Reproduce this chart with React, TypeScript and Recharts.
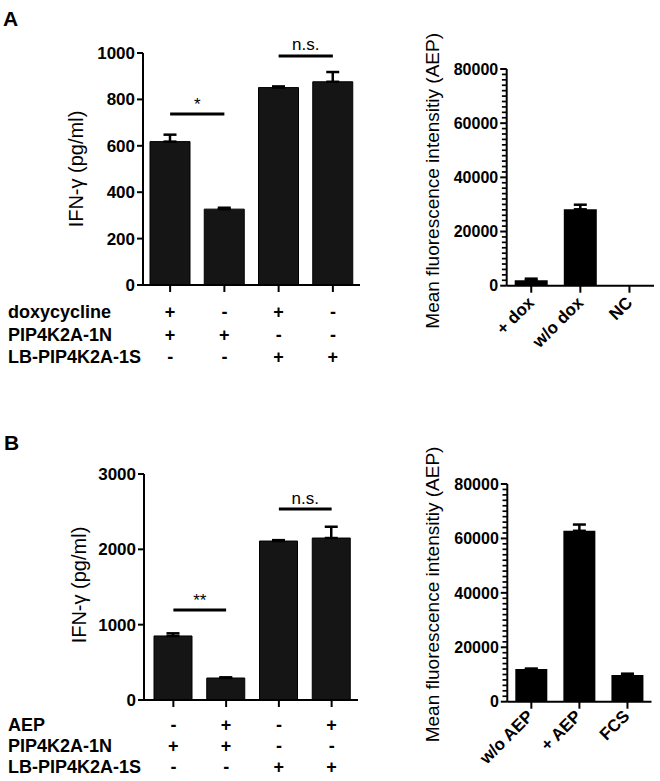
import React from 'react';
import { BarChart, Bar, XAxis, YAxis, ErrorBar, ReferenceLine } from 'recharts';

const FONT = '"Liberation Sans", Arial, Helvetica, sans-serif';

// ---------- Panel A, left: IFN-gamma ----------
const conditionsA = ['a1', 'a2', 'a3', 'a4'];
const ifnA = [618, 327, 851, 876];
const ifnAErr = [30, 6, 5, 42];
const rowNamesA = ['doxycycline', 'PIP4K2A-1N', 'LB-PIP4K2A-1S'];
const rowSignsA = [
  ['+', '-', '+', '-'],
  ['+', '+', '-', '-'],
  ['-', '-', '+', '+'],
];
const ifnATicks = [0, 200, 400, 600, 800, 1000];
const sigA = [
  { from: 0, to: 1, y: 737, text: '*' },
  { from: 2, to: 3, y: 987, text: 'n.s.' },
];

// ---------- Panel A, right: MFI ----------
const mfiACats = ['+ dox', 'w/o dox', 'NC'];
const mfiA = [2000, 28200, 0];
const mfiAErr = [600, 1700, 0];

// ---------- Panel B, left: IFN-gamma ----------
const conditionsB = ['b1', 'b2', 'b3', 'b4'];
const ifnB = [850, 292, 2110, 2150];
const ifnBErr = [35, 9, 12, 150];
const rowNamesB = ['AEP', 'PIP4K2A-1N', 'LB-PIP4K2A-1S'];
const rowSignsB = [
  ['-', '+', '-', '+'],
  ['+', '+', '-', '-'],
  ['-', '-', '+', '+'],
];
const ifnBTicks = [0, 1000, 2000, 3000];
const sigB = [
  { from: 0, to: 1, y: 1195, text: '**' },
  { from: 2, to: 3, y: 2535, text: 'n.s.' },
];

// ---------- Panel B, right: MFI ----------
const mfiBCats = ['w/o AEP', '+ AEP', 'FCS'];
const mfiB = [12000, 62800, 9800];
const mfiBErr = [150, 2300, 500];

const mfiMajorTicks = [0, 20000, 40000, 60000, 80000];
const mfiMinorTicks = [
  2000, 4000, 6000, 8000, 10000, 12000, 14000, 16000, 18000,
  22000, 24000, 26000, 28000, 30000, 32000, 34000, 36000, 38000,
  42000, 44000, 46000, 48000, 50000, 52000, 54000, 56000, 58000,
  62000, 64000, 66000, 68000, 70000, 72000, 74000, 76000, 78000,
];

const build = (cats: string[], vals: number[], errs: number[]) =>
  cats.map((c, i) => ({ cat: c, value: vals[i], err: [0, errs[i]] }));

const dataA = build(conditionsA, ifnA, ifnAErr);
const dataAR = build(mfiACats, mfiA, mfiAErr);
const dataB = build(conditionsB, ifnB, ifnBErr);
const dataBR = build(mfiBCats, mfiB, mfiBErr);

const makeSignTick = (rowNames: string[], rowSigns: string[][], offsets: number[]) =>
  (props: any) => {
    const { x, y, payload } = props;
    const i = payload && payload.index != null ? payload.index : props.index;
    return (
      <g>
        {rowSigns.map((row, r) => (
          <text key={'s' + r} x={x} y={y + offsets[r]} textAnchor="middle" fontSize={18}
            fontWeight="bold" fontFamily={FONT} fill="#000">{row[i]}</text>
        ))}
        {i === 0 && rowNames.map((name, r) => (
          <text key={'n' + r} x={8} y={y + offsets[r]} textAnchor="start" fontSize={18}
            fontWeight="bold" fontFamily={FONT} fill="#000">{name}</text>
        ))}
      </g>
    );
  };

const makeRotTick = (dx: number, dy: number) => (props: any) => {
  const { x, y, payload } = props;
  const tx = x + dx;
  const ty = y + dy;
  return (
    <text x={tx} y={ty} transform={`rotate(-45 ${tx} ${ty})`} textAnchor="end" fontSize={17}
      fontWeight="bold" fontFamily={FONT} fill="#000">{payload.value}</text>
  );
};

// Minor tick: a reference line at the tick value, drawn only as a short stub left of the axis
const minorTickShape = (props: any) => {
  const left = Math.min(Number(props.x1), Number(props.x2));
  const yy = Number(props.y1);
  return <line x1={left - 4.8} x2={left} y1={yy} y2={yy} stroke="#000" strokeWidth={1.7} />;
};

const makeYLabel = (text: string, bx: number, dyc: number, fontSize: number) => (props: any) => {
  const vb = props.viewBox || {};
  const cx = (vb.x || 0) + bx;
  const cy = (vb.y || 0) + (vb.height || 0) / 2 + dyc;
  return (
    <text x={cx} y={cy} transform={`rotate(-90 ${cx} ${cy})`} textAnchor="middle" fontSize={fontSize}
      fontFamily={FONT} fill="#000">{text}</text>
  );
};

const axisLine = { stroke: '#000', strokeWidth: 2 };
const tickLineStyle = { stroke: '#000', strokeWidth: 2 };
const yTickStyle = { fontSize: 17, fontWeight: 'bold', fill: '#000', fontFamily: FONT } as any;
const mfiTickStyle = { fontSize: 16, fontWeight: 'bold', fill: '#000', fontFamily: FONT } as any;

const sigLines = (sig: typeof sigA, cats: string[], offsets: number[]) =>
  sig.map((s, k) => (
    <ReferenceLine key={'sig' + k} segment={[{ x: cats[s.from], y: s.y }, { x: cats[s.to], y: s.y }]}
      stroke="#000" strokeWidth={3} ifOverflow="visible"
      label={{ value: s.text, position: 'top', offset: offsets[k], fill: '#000', fontSize: 17, fontFamily: FONT }} />
  ));

const minorLines = () =>
  mfiMinorTicks.map((v) => (
    <ReferenceLine key={'minor' + v} y={v} stroke="#000" ifOverflow="visible" shape={minorTickShape} />
  ));

export default function App() {
  return (
    <div style={{ position: 'absolute', left: 0, top: 0, width: 660, height: 781, background: '#fff', overflow: 'hidden' }}>
      {/* Panel A left */}
      <div style={{ position: 'absolute', left: 0, top: 0 }}>
        <BarChart width={370} height={380} data={dataA} margin={{ top: 53, right: 10, bottom: 0, left: 0 }}>
          <XAxis dataKey="cat" height={95} axisLine={axisLine} tickLine={tickLineStyle} tickSize={7} tickMargin={2}
            interval={0} tick={makeSignTick(rowNamesA, rowSignsA, [24, 47, 69])} />
          <YAxis width={143} domain={[0, 1000]} ticks={ifnATicks} interval={0} axisLine={axisLine}
            tickLine={tickLineStyle} tickSize={6} tickMargin={2} tick={yTickStyle}
            label={makeYLabel('IFN-γ (pg/ml)', 83, 0, 20)} />
          <Bar dataKey="value" fill="#151515" stroke="#000" strokeWidth={1} barSize={40} isAnimationActive={false}>
            <ErrorBar dataKey="err" width={6.5} strokeWidth={2.5} stroke="#000" direction="y" />
          </Bar>
          {sigLines(sigA, conditionsA, [4, 6])}
        </BarChart>
      </div>

      {/* Panel A right */}
      <div style={{ position: 'absolute', left: 400, top: 0 }}>
        <BarChart width={260} height={380} data={dataAR} margin={{ top: 69, right: 6, bottom: 0, left: 0 }}>
          <XAxis dataKey="cat" height={94.3} axisLine={axisLine} tickLine={tickLineStyle} tickSize={7} tickMargin={2}
            interval={0} tick={makeRotTick(4, 9)} />
          <YAxis width={106.7} domain={[0, 80000]} ticks={mfiMajorTicks} interval={0} axisLine={axisLine}
            tickLine={tickLineStyle} tickSize={6.5} tickMargin={2} tick={mfiTickStyle}
            label={makeYLabel('Mean fluorescence intensitiy (AEP)', 39, 3.5, 19)} />
          {minorLines()}
          <Bar dataKey="value" fill="#000" barSize={33} isAnimationActive={false}>
            <ErrorBar dataKey="err" width={6.5} strokeWidth={2.5} stroke="#000" direction="y" />
          </Bar>
        </BarChart>
      </div>

      {/* Panel B left */}
      <div style={{ position: 'absolute', left: 0, top: 400 }}>
        <BarChart width={370} height={381} data={dataB} margin={{ top: 74, right: 12, bottom: 0, left: 0 }}>
          <XAxis dataKey="cat" height={81} axisLine={axisLine} tickLine={tickLineStyle} tickSize={7} tickMargin={2}
            interval={0} padding={{ left: 3, right: 0 }} tick={makeSignTick(rowNamesB, rowSignsB, [22, 43, 64])} />
          <YAxis width={144} domain={[0, 3000]} ticks={ifnBTicks} interval={0} axisLine={axisLine}
            tickLine={tickLineStyle} tickSize={6} tickMargin={2} tick={yTickStyle}
            label={makeYLabel('IFN-γ (pg/ml)', 86, -2, 20)} />
          <Bar dataKey="value" fill="#151515" stroke="#000" strokeWidth={1} barSize={38} isAnimationActive={false}>
            <ErrorBar dataKey="err" width={6.5} strokeWidth={2.5} stroke="#000" direction="y" />
          </Bar>
          {sigLines(sigB, conditionsB, [4, 5.5])}
        </BarChart>
      </div>

      {/* Panel B right */}
      <div style={{ position: 'absolute', left: 400, top: 400 }}>
        <BarChart width={260} height={381} data={dataBR} margin={{ top: 84, right: 8.5, bottom: 0, left: 0 }}>
          <XAxis dataKey="cat" height={79.3} axisLine={axisLine} tickLine={tickLineStyle} tickSize={7} tickMargin={2}
            interval={0} tick={makeRotTick(3, 6.5)} />
          <YAxis width={107.3} domain={[0, 80000]} ticks={mfiMajorTicks} interval={0} axisLine={axisLine}
            tickLine={tickLineStyle} tickSize={6.5} tickMargin={2} tick={mfiTickStyle}
            label={makeYLabel('Mean fluorescence intensitiy (AEP)', 39.5, 1.6, 19)} />
          {minorLines()}
          <Bar dataKey="value" fill="#000" barSize={32} isAnimationActive={false}>
            <ErrorBar dataKey="err" width={6.5} strokeWidth={2.5} stroke="#000" direction="y" />
          </Bar>
        </BarChart>
      </div>

      <svg width={660} height={781} style={{ position: 'absolute', left: 0, top: 0, pointerEvents: 'none' }}>
        <text x={3} y={26} fontSize={21} fontWeight="bold" fontFamily={FONT} fill="#000">A</text>
        <text x={4} y={450} fontSize={21} fontWeight="bold" fontFamily={FONT} fill="#000">B</text>
      </svg>
    </div>
  );
}
